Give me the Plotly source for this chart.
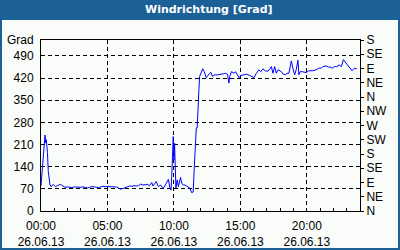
import plotly.graph_objects as go

# ---- data ----
times = [
    "00:00", "00:06", "00:14", "00:18", "00:21", "00:24", "00:29", "00:33", "00:40", "00:45",
    "00:56", "01:05", "01:14", "01:27", "01:33", "01:48",
    "02:00", "02:10", "02:20", "02:30", "02:40", "02:50", "03:00", "03:10", "03:20", "03:30",
    "03:40", "03:50", "04:00", "04:10", "04:20", "04:30", "04:40", "04:50", "05:00", "05:10",
    "05:20", "05:30", "05:40", "05:50", "06:00", "06:10", "06:20", "06:30", "06:40", "06:50",
    "07:00", "07:10", "07:20", "07:30", "07:40", "07:50", "08:00",
    "08:10", "08:20", "08:25", "08:30", "08:35", "08:40", "08:45", "08:50", "09:00", "09:10",
    "09:15", "09:20", "09:25", "09:30", "09:35", "09:42", "09:47", "09:50", "09:54", "09:57",
    "10:00", "10:03", "10:06", "10:09", "10:12", "10:15", "10:20", "10:25", "10:30", "10:35",
    "10:42", "10:50", "10:57", "11:05", "11:12", "11:20", "11:27", "11:32", "11:35", "11:38",
    "11:41", "11:45", "11:48", "11:53", "11:56", "12:04", "12:10", "12:17", "12:26", "12:42",
    "12:47", "12:54", "13:05", "13:18", "13:27", "13:42", "13:53", "14:02", "14:08", "14:12",
    "14:20", "14:32", "14:38", "14:47", "14:54", "15:02", "15:12", "15:27", "15:42", "15:53",
    "16:02", "16:12", "16:23", "16:32", "16:42", "16:53", "17:05", "17:14", "17:20", "17:27",
    "17:35", "17:42", "17:50", "18:05", "18:12", "18:24", "18:30", "18:39", "18:50", "18:57",
    "19:05", "19:12", "19:20", "19:24", "19:30", "19:39", "19:50", "19:57", "20:09", "20:20",
    "20:27", "20:42", "20:54", "21:05", "21:12", "21:27", "21:39", "21:45", "21:54", "22:05",
    "22:15", "22:27", "22:36", "22:45", "22:57", "23:12", "23:24", "23:35", "23:46",
]
values = [
    80, 130, 180, 240, 215, 225, 185, 125, 85, 77,
    84, 77, 80, 84, 82, 75,
    76, 75, 74, 76, 75, 74, 75, 76, 74, 73,
    75, 77, 76, 75, 74, 76, 78, 77, 77, 75,
    76, 77, 76, 73, 69, 71, 73, 76, 79, 78,
    80, 79, 80, 85, 82, 83, 84,
    80, 90, 79, 82, 88, 93, 85, 77, 82, 72,
    74, 80, 85, 90, 100, 72, 66, 108, 182, 235,
    161, 214, 140, 72, 88, 98, 77, 95, 106, 88,
    82, 82, 79, 76, 72, 58, 60, 140, 200, 250,
    262, 262, 340, 385, 425, 440, 449, 440, 421, 435,
    438, 425, 430, 430, 432, 433, 435, 432, 404, 425,
    440, 435, 440, 428, 421, 428, 430, 432, 428, 425,
    421, 435, 446, 440, 449, 442, 442, 449, 456, 435,
    456, 435, 446, 440, 433, 430, 435, 435, 474, 451,
    430, 446, 476, 430, 440, 440, 437, 437, 443, 443,
    443, 446, 451, 451, 456, 458, 454, 455, 451, 456,
    456, 461, 456, 478, 467, 456, 443, 451, 449,
]
day = "2013-06-26"
left_ticks = [0, 70, 140, 210, 280, 350, 420, 490]
right_ticks = [0, 45, 90, 135, 180, 225, 270, 315, 360, 405, 450, 495, 540]
right_labels = ["N", "NE", "E", "SE", "S", "SW", "W", "NW", "N", "NE", "E", "SE", "S"]
title_text = "Windrichtung [Grad]"
unit_text = "Grad"

x = [day + " " + t for t in times]

FONT = "Liberation Sans"
BLUE = "#1b6096"

fig = go.Figure()
fig.add_trace(go.Scatter(x=x, y=values, mode="lines",
                         line=dict(color="#0000ff", width=1), showlegend=False))
# invisible trace to activate right axis
fig.add_trace(go.Scatter(x=[x[0]], y=[0], yaxis="y2", mode="markers",
                         marker=dict(opacity=0), showlegend=False, hoverinfo="skip"))

L, R, T, B = 41, 40, 40, 39
W, H = 400, 250
pw, ph = W - L - R, H - T - B

def px(xp):
    return (xp - L) / pw

def py(yp):
    return (H - B - yp) / ph

fig.update_layout(
    width=W, height=H,
    margin=dict(l=L, r=R, t=T, b=B, pad=0, autoexpand=False),
    paper_bgcolor="#f9fcf9",
    plot_bgcolor="#f9fcf9",
    font=dict(family=FONT, size=12, color="black"),
    xaxis=dict(
        type="date", automargin=False,
        range=[day + " 00:00", "2013-06-27 00:00"],
        tick0=day + " 00:00", dtick=5 * 3600000,
        tickformat="%H:%M<br>%d.%m.%y",
        showgrid=True, gridcolor="black", gridwidth=1, griddash="4px,3px",
        showline=True, linecolor="black", linewidth=1, mirror=True,
        ticks="inside", ticklen=3, tickcolor="black",
        minor=dict(dtick=3600000, ticks="inside", ticklen=3, tickcolor="black", showgrid=False),
        zeroline=False,
        ticklabelstandoff=4,
        fixedrange=True,
    ),
    yaxis=dict(
        range=[0, 540], automargin=False,
        tickvals=left_ticks,
        showgrid=True, gridcolor="black", gridwidth=1, griddash="4px,3px",
        showline=True, linecolor="black", linewidth=1, mirror=True,
        ticks="", zeroline=False,
        ticklabelstandoff=4,
    ),
    yaxis2=dict(
        range=[0, 540], overlaying="y", side="right", automargin=False,
        tickvals=right_ticks, ticktext=right_labels,
        ticks="outside", ticklen=3, tickcolor="black",
        showgrid=False, zeroline=False, showline=False,
        ticklabelstandoff=0,
    ),
    shapes=[
        dict(type="rect", xref="paper", yref="paper",
             x0=px(0), x1=px(W), y0=py(20), y1=py(0),
             fillcolor=BLUE, line=dict(width=0), layer="above"),
        dict(type="rect", xref="paper", yref="paper",
             x0=px(1), x1=px(W - 1), y0=py(H - 1), y1=py(1),
             fillcolor="rgba(0,0,0,0)", line=dict(color=BLUE, width=2), layer="above"),
    ],
    annotations=[
        dict(text="<b>" + title_text + "</b>", xref="paper", yref="paper",
             x=px(209), y=py(10), xanchor="center", yanchor="middle", showarrow=False,
             font=dict(family="DejaVu Sans", size=11, color="white")),
        dict(text=unit_text, xref="paper", yref="paper",
             x=px(36), y=py(49), xanchor="right", yanchor="bottom", showarrow=False,
             font=dict(family=FONT, size=12, color="black")),
    ],
)

fig.write_html("out.html")
